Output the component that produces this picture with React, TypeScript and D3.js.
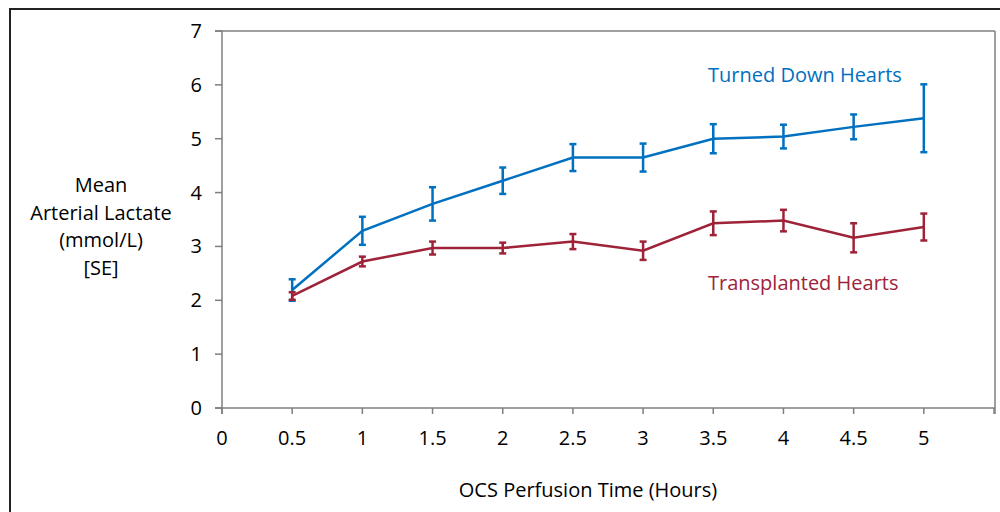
import React from "react";
import * as d3 from "d3";

const hours = [0.5, 1, 1.5, 2, 2.5, 3, 3.5, 4, 4.5, 5];
const turnedDown = [2.19, 3.29, 3.79, 4.22, 4.65, 4.65, 5.0, 5.04, 5.22, 5.38];
const turnedDownSE = [0.2, 0.26, 0.31, 0.245, 0.25, 0.26, 0.27, 0.22, 0.23, 0.63];
const transplanted = [2.08, 2.72, 2.97, 2.97, 3.09, 2.92, 3.43, 3.48, 3.16, 3.36];
const transplantedSE = [0.07, 0.09, 0.12, 0.1, 0.14, 0.17, 0.22, 0.2, 0.27, 0.25];
const xTicks = [0, 0.5, 1, 1.5, 2, 2.5, 3, 3.5, 4, 4.5, 5, 5.5];
const xTickLabels = ["0", "0.5", "1", "1.5", "2", "2.5", "3", "3.5", "4", "4.5", "5", ""];
const yTicks = [0, 1, 2, 3, 4, 5, 6, 7];
const yLabelLines = ["Mean", "Arterial Lactate", "(mmol/L)", "[SE]"];

const BLUE = "#0070C0";
const RED = "#9E2339";
const FONT = "'Open Sans', Lato, sans-serif";
const FS = 20;

export default function App() {
  const W = 1000, H = 512;
  const x = d3.scaleLinear().domain([0, 5.5]).range([222, 994]);
  const y = d3.scaleLinear().domain([0, 7]).range([408, 31]);
  const line = d3.line<number>().x((_, i) => x(hours[i])).y((d) => y(d));

  const series = [
    { vals: turnedDown, se: turnedDownSE, color: BLUE },
    { vals: transplanted, se: transplantedSE, color: RED },
  ];

  return (
    <svg width={W} height={H} style={{ position: "absolute", left: 0, top: 0, background: "#fff" }}>
      <rect x={0} y={0} width={W} height={H} fill="#fff" />
      {/* outer frame */}
      <rect x={10} y={9} width={1000} height={600} fill="none" stroke="#222" strokeWidth={2} />
      {/* plot area frame */}
      <line x1={215} x2={995} y1={y(7)} y2={y(7)} stroke="#7f7f7f" strokeWidth={1.5} />
      <line x1={995} x2={995} y1={y(7)} y2={414} stroke="#7f7f7f" strokeWidth={1.5} />
      {/* axes */}
      <line x1={x(0)} x2={x(0)} y1={y(7)} y2={414} stroke="#7f7f7f" strokeWidth={1.5} />
      <line x1={215} x2={995} y1={y(0)} y2={y(0)} stroke="#7f7f7f" strokeWidth={1.5} />
      {yTicks.map((t) => (
        <g key={"y" + t}>
          <line x1={215} x2={x(0)} y1={y(t)} y2={y(t)} stroke="#7f7f7f" strokeWidth={1.5} />
          <text x={202} y={y(t)} dy="0.35em" textAnchor="end" fontFamily={FONT} fontSize={FS} fill="#000">
            {t}
          </text>
        </g>
      ))}
      {xTicks.map((t, i) => (
        <g key={"x" + t}>
          <line x1={x(t)} x2={x(t)} y1={y(0)} y2={414} stroke="#7f7f7f" strokeWidth={1.5} />
          <text x={x(t)} y={445} textAnchor="middle" fontFamily={FONT} fontSize={FS} fill="#000">
            {xTickLabels[i]}
          </text>
        </g>
      ))}
      {yLabelLines.map((s, i) => (
        <text key={s} x={101} y={192 + i * 27.5} textAnchor="middle" fontFamily={FONT} fontSize={FS} fill="#000">
          {s}
        </text>
      ))}
      <text x={588} y={497} textAnchor="middle" fontFamily={FONT} fontSize={FS} fill="#000">
        OCS Perfusion Time (Hours)
      </text>
      {series.map((s, si) => (
        <g key={si}>
          <path d={line(s.vals) || ""} fill="none" stroke={s.color} strokeWidth={2.5} />
          {s.vals.map((v, i) => {
            const cx = x(hours[i]);
            const t = y(v + s.se[i]);
            const b = y(v - s.se[i]);
            return (
              <g key={i} stroke={s.color} strokeWidth={2.5}>
                <line x1={cx} x2={cx} y1={t} y2={b} />
                <line x1={cx - 3.5} x2={cx + 3.5} y1={t} y2={t} />
                <line x1={cx - 3.5} x2={cx + 3.5} y1={b} y2={b} />
              </g>
            );
          })}
        </g>
      ))}
      <text x={708} y={82} fontFamily={FONT} fontSize={FS} fill={BLUE}>Turned Down Hearts</text>
      <text x={708} y={290} fontFamily={FONT} fontSize={FS} fill={RED}>Transplanted Hearts</text>
    </svg>
  );
}
